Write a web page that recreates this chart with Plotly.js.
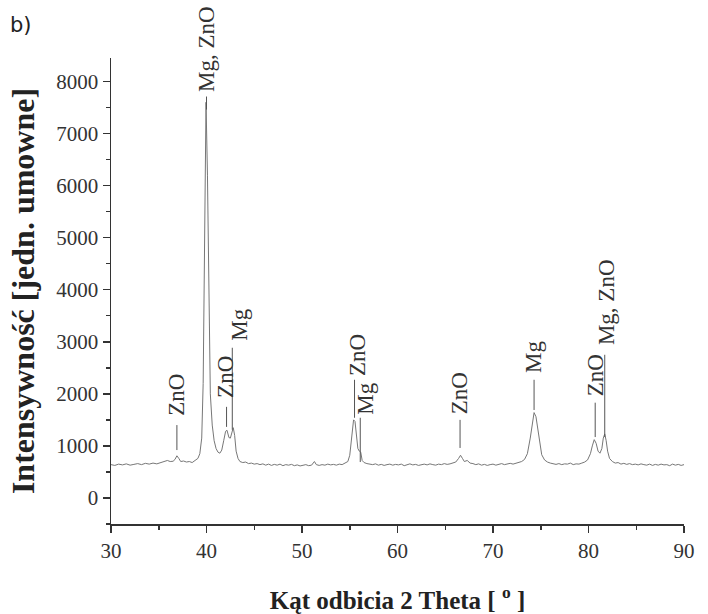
<!DOCTYPE html>
<html>
<head>
<meta charset="utf-8">
<script src="https://cdn.plot.ly/plotly-3.0.1.min.js"></script>
<style>html,body{margin:0;padding:0;background:#fff;}#chart{width:708px;height:614px;}</style>
</head>
<body>
<div id="chart"></div>
<script>
// 2-theta angles (degrees)
const twoTheta = [
 30.0,30.4,30.8,31.2,31.6,32.0,32.4,32.8,33.2,33.6,34.0,34.4,34.8,35.2,35.6,35.9,36.2,36.5,36.7,36.9,
 37.1,37.3,37.6,37.9,38.2,38.5,38.8,39.1,39.3,39.5,39.65,39.8,39.95,40.1,40.25,40.4,40.6,40.8,41.0,41.2,
 41.4,41.6,41.8,42.0,42.15,42.35,42.5,42.65,42.8,42.95,43.1,43.3,43.5,43.8,44.1,44.4,44.7,45.0,45.3,45.6,
 45.9,46.2,46.5,46.8,47.1,47.4,47.7,48.0,48.3,48.6,48.9,49.2,49.5,49.8,50.1,50.4,50.7,51.0,51.3,51.5,
 51.8,52.1,52.4,52.7,53.0,53.3,53.6,53.9,54.2,54.5,54.8,55.0,55.2,55.4,55.55,55.7,55.85,56.0,56.15,56.3,
 56.5,56.8,57.1,57.4,57.7,58.0,58.3,58.6,58.9,59.2,59.5,59.8,60.1,60.4,60.7,61.0,61.3,61.6,61.9,62.2,
 62.5,62.8,63.1,63.4,63.7,64.0,64.3,64.6,64.9,65.2,65.5,65.8,66.1,66.4,66.6,66.8,67.0,67.3,67.6,67.9,
 68.2,68.5,68.8,69.1,69.4,69.7,70.0,70.3,70.6,70.9,71.2,71.5,71.8,72.1,72.4,72.7,73.0,73.3,73.6,73.9,
 74.1,74.3,74.5,74.7,74.9,75.1,75.4,75.7,76.0,76.3,76.6,76.9,77.2,77.5,77.8,78.1,78.4,78.7,79.0,79.3,
 79.6,79.9,80.2,80.4,80.6,80.8,81.0,81.2,81.4,81.55,81.7,81.85,82.0,82.2,82.5,82.8,83.1,83.4,83.7,84.0,
 84.3,84.6,84.9,85.2,85.5,85.8,86.1,86.4,86.7,87.0,87.3,87.6,87.9,88.2,88.5,88.8,89.1,89.4,89.7,90.0
];
// intensity (arbitrary units)
const intensity = [
 640,625,650,635,655,630,645,660,640,665,650,670,655,680,690,720,700,705,740,810,
 760,700,710,690,700,680,720,760,850,1150,2200,5000,7600,6200,3500,2000,1400,1100,950,880,
 860,920,1100,1280,1300,1160,1150,1260,1350,1200,900,760,700,680,690,660,670,650,660,640,
 655,630,650,625,645,630,650,620,640,630,645,620,635,615,630,640,620,630,700,640,
 625,640,630,650,635,645,630,650,640,665,700,820,1200,1500,1470,1200,950,900,880,720,
 680,660,650,640,655,630,645,625,640,650,630,645,635,650,620,640,655,635,645,625,
 640,650,635,655,640,630,650,640,660,645,655,670,690,760,820,760,700,720,670,660,
 640,655,630,645,625,640,650,630,645,660,640,650,665,650,670,680,700,740,850,1150,
 1450,1640,1560,1300,1000,830,730,690,670,660,645,660,640,655,650,670,640,655,650,670,
 690,730,850,1000,1120,1050,900,860,950,1150,1230,1100,900,760,700,670,680,650,665,645,
 660,640,650,635,655,640,630,650,625,645,630,650,635,640,620,650,630,645,625,640
];
// peak labels
const peakLabels = ["ZnO","Mg, ZnO","ZnO","Mg","ZnO","Mg","ZnO","Mg","ZnO","Mg, ZnO"];
const labelX     = [36.9, 40.0, 42.05, 43.5, 55.8, 56.7, 66.5, 74.3, 80.7, 81.95];
const labelY     = [1540, 7750, 1885, 2980, 2310, 1560, 1560, 2365, 1920, 2900];
const lineX      = [36.9, 40.0, 42.1, 42.7, 55.5, 56.1, 66.55, 74.3, 80.7, 81.7];
const lineTop    = [1400, 7710, 1750, 2885, 2270, 1540, 1500, 2270, 1830, 2750];
const lineBottom = [920, 7460, 1365, 1310, 1540, 690, 960, 1690, 1170, 1170];

const serif = "Liberation Serif, Times New Roman, serif";
const ink = "#333";

const annotations = peakLabels.map((t, i) => ({
  x: labelX[i], y: labelY[i], xref: 'x', yref: 'y',
  text: t, textangle: -90, showarrow: false,
  xanchor: 'center', yanchor: 'bottom',
  font: {family: serif, size: 23, color: ink}
}));
annotations.push({
  xref: 'paper', yref: 'paper', x: -0.18, y: 1.071,
  xanchor: 'left', yanchor: 'middle', showarrow: false,
  text: 'b)', font: {family: "DejaVu Sans, sans-serif", size: 21, color: '#222'}
});

const shapes = lineX.map((x, i) => ({
  type: 'line', xref: 'x', yref: 'y',
  x0: x, x1: x, y0: lineBottom[i], y1: lineTop[i],
  line: {color: '#555', width: 1}
}));

const trace = {
  x: twoTheta, y: intensity, type: 'scatter', mode: 'lines',
  line: {color: '#777', width: 1}, hoverinfo: 'x+y'
};

const layout = {
  width: 708, height: 614,
  margin: {l: 111, r: 24, t: 58, b: 90},
  paper_bgcolor: '#fff', plot_bgcolor: '#fff',
  font: {family: serif, color: ink},
  showlegend: false,
  xaxis: {
    range: [30, 90], dtick: 10, tick0: 30,
    showline: true, linecolor: ink, linewidth: 1.5,
    ticks: 'outside', ticklen: 7, tickwidth: 1.5, tickcolor: ink,
    minor: {ticks: 'outside', ticklen: 4, tickwidth: 1.5, tickcolor: ink, dtick: 5},
    showgrid: false, zeroline: false,
    tickfont: {family: serif, size: 21, color: ink},
    title: {text: 'Kąt odbicia 2 Theta [ <sup>o</sup> ]', standoff: 30,
            font: {family: serif, size: 25, color: '#222', weight: 'bold'}}
  },
  yaxis: {
    range: [-500, 8450], dtick: 1000, tick0: 0,
    showline: true, linecolor: ink, linewidth: 1.5,
    ticks: 'outside', ticklen: 7, tickwidth: 1.5, tickcolor: ink,
    minor: {ticks: 'outside', ticklen: 4, tickwidth: 1.5, tickcolor: ink, dtick: 500},
    showgrid: false, zeroline: false,
    tickfont: {family: serif, size: 21, color: ink},
    title: {text: 'Intensywność [jedn. umowne]', standoff: 12,
            font: {family: serif, size: 32, color: '#222', weight: 'bold'}}
  },
  annotations: annotations,
  shapes: shapes
};

Plotly.newPlot('chart', [trace], layout, {displayModeBar: false, staticPlot: true});
</script>
</body>
</html>
